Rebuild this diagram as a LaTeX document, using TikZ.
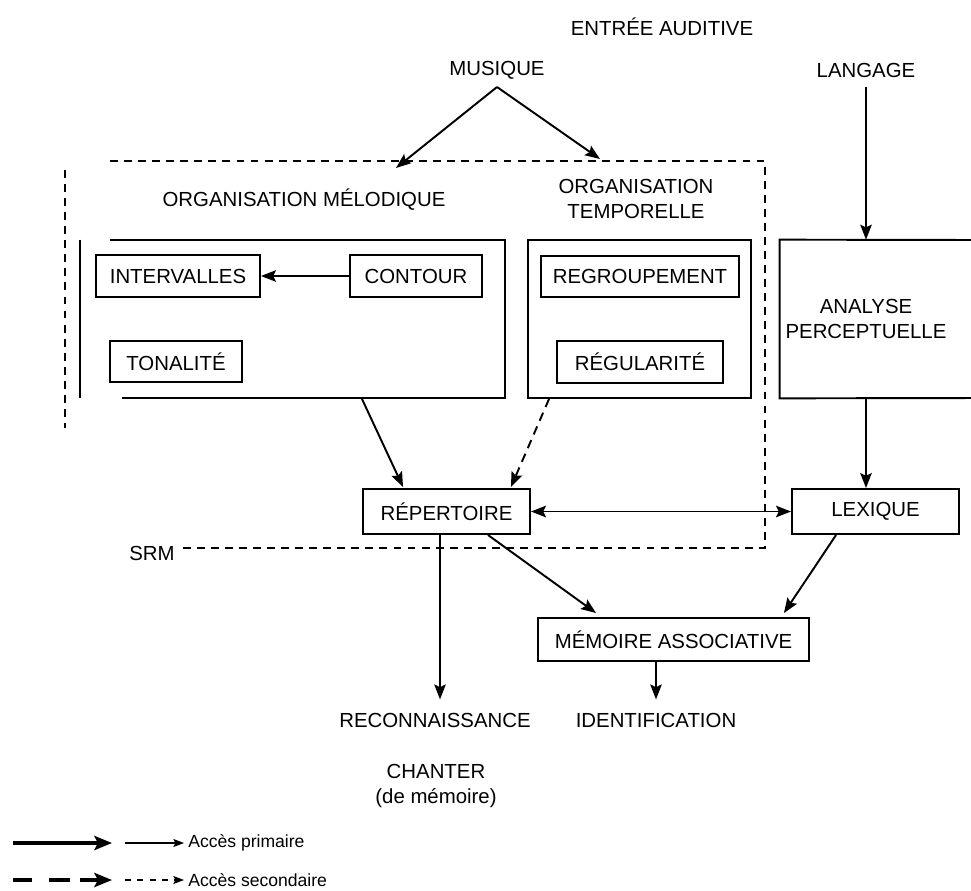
\documentclass[tikz,border=0pt]{standalone}
\usepackage{fontspec}
\setmainfont{Liberation Sans}
\usetikzlibrary{arrows.meta,calc}
\begin{document}
\begin{tikzpicture}[x=0.02cm,y=-0.02cm,
  every node/.style={font=\fontsize{11.6}{14.7}\selectfont, inner sep=0pt, align=center},
  box/.style={draw, line width=1.1pt},
  line/.style={line width=1.1pt},
  arr/.style={line width=1.1pt, -{Stealth[length=8.5pt,width=6.5pt,inset=1.5pt]}},
  darr/.style={arr, dash pattern=on 5pt off 3.5pt},
  srm/.style={line width=1.1pt, dash pattern=on 4.5pt off 3.5pt},
  legtext/.style={anchor=west, font=\fontsize{10}{12}\selectfont}]
\useasboundingbox (0,0) rectangle (971,890);

% top labels
\node (entree) at (662,27) {ENTRÉE AUDITIVE};
\node (musique) at (497,70) {MUSIQUE};
\node (langage) at (866,70) {LANGAGE};
\coordinate (mapex) at (497,87);
\coordinate (langout) at (866,87);
\coordinate (melin) at (396,168);
\coordinate (tempin) at (600,159);

% SRM dashed frame
\draw[srm] (65,170) -- (65,428);
\draw[srm] (110,161) -- (765,161) -- (765,548) -- (183,548);
\node (srmlabel) at (152,553) {SRM};

% organisation headings
\node (orgmel) at (304,200) {ORGANISATION MÉLODIQUE};
\node (orgtemp) at (636,199) {ORGANISATION\\TEMPORELLE};

% melodic box (open corners as in the original)
\node[minimum width=8.5cm, minimum height=3.16cm] (melbox) at (292.5,319) {};
\draw[line] ($(melbox.north west)+(30,0)$) -- (melbox.north east) -- (melbox.south east) -- ($(melbox.south west)+(42,0)$);
\draw[line] (melbox.north west) -- (melbox.south west);

\node[box, minimum width=3.28cm, minimum height=0.84cm] (intervalles) at (178,276) {INTERVALLES};
\node[box, minimum width=2.64cm, minimum height=0.84cm] (contour) at (416,276) {CONTOUR};
\node[box, minimum width=2.64cm, minimum height=0.82cm] (tonalite) at (176,361.5) {TONALITÉ};

% temporal box
\node[box, minimum width=4.46cm, minimum height=3.16cm] (tempbox) at (639.5,319) {};
\node[box, minimum width=3.96cm, minimum height=0.82cm] (regroupement) at (640,276.5) {REGROUPEMENT};
\node[box, minimum width=3.32cm, minimum height=0.84cm] (regularite) at (640,362) {RÉGULARITÉ};

% analyse perceptuelle (box runs off the right edge)
\node[minimum width=3.44cm, minimum height=3.16cm] (analyse) at (866,319) {ANALYSE\\PERCEPTUELLE};
\draw[line] (980,240) -- (analyse.north west) -- (analyse.south west) -- (980,398);

% lower boxes
\node[box, minimum width=3.34cm, minimum height=0.9cm] (repertoire) at (446.5,511.5) {RÉPERTOIRE};
\node[box, minimum width=3.34cm, minimum height=0.9cm] (lexique) at (875.5,511.5) {LEXIQUE};
\node[box, minimum width=5.42cm, minimum height=0.86cm] (memoire) at (673.5,639.5) {MÉMOIRE ASSOCIATIVE};

% outputs
\node (reco) at (435,720) {RECONNAISSANCE};
\node (ident) at (656,720) {IDENTIFICATION};
\node (chanter) at (436,786) {CHANTER\\(de mémoire)};

% connectors
\draw[arr] (mapex) -- (melin);
\draw[arr] (mapex) -- (tempin);
\draw[arr] (langout) -- (analyse.north);
\draw[arr] (contour.west) -- (intervalles.east);
\draw[arr] ($(melbox.south west)+(282,0)$) -- ($(repertoire.north west)+(41,-1)$);
\draw[darr] ($(tempbox.south west)+(22,0)$) -- ($(repertoire.north east)+(-20,-1)$);
\draw[arr] (analyse.south) -- (analyse.south |- lexique.north);
\draw[line, {Stealth[length=8.5pt,width=6.5pt,inset=1.5pt]}-{Stealth[length=8.5pt,width=6.5pt,inset=1.5pt]}] (repertoire.east) -- (lexique.west);
\draw[arr] ($(repertoire.south)+(-6.5,0)$) -- ($(reco.north)+(5,-13)$);
\draw[arr] ($(repertoire.south east)+(-43,0)$) -- ($(memoire.north west)+(59,-4)$);
\draw[arr] ($(lexique.south west)+(45,0)$) -- ($(memoire.north east)+(-26,-4)$);
\draw[arr] ($(memoire.south)+(-17.5,0)$) -- ($(ident.north)+(0,-13)$);

% legend
\node[legtext] (lprim) at (188,843) {Accès primaire};
\node[legtext] (lsec) at (188,880) {Accès secondaire};
\coordinate (lp0) at (13,843);
\coordinate (lp1) at (112,843);
\coordinate (ls0) at (13,880);
\coordinate (ls1) at (112,880);
\draw[line width=2.4pt, -{Stealth[length=10pt,width=8pt,inset=2pt]}] (lp0) -- (lp1);
\draw[line width=2.4pt, dash pattern=on 11pt off 9.5pt on 12pt off 5.5pt on 30pt, -{Stealth[length=10pt,width=8pt,inset=2pt]}] (ls0) -- (ls1);
\draw[line width=0.7pt, -{Stealth[length=6pt,width=4.5pt,inset=1pt]}] ($(lprim.west)+(-63,0)$) -- ($(lprim.west)+(-4,0)$);
\draw[line width=0.7pt, dash pattern=on 3.5pt off 3.5pt, -{Stealth[length=6pt,width=4.5pt,inset=1pt]}] ($(lsec.west)+(-63,0)$) -- ($(lsec.west)+(-4,0)$);
\end{tikzpicture}
\end{document}
